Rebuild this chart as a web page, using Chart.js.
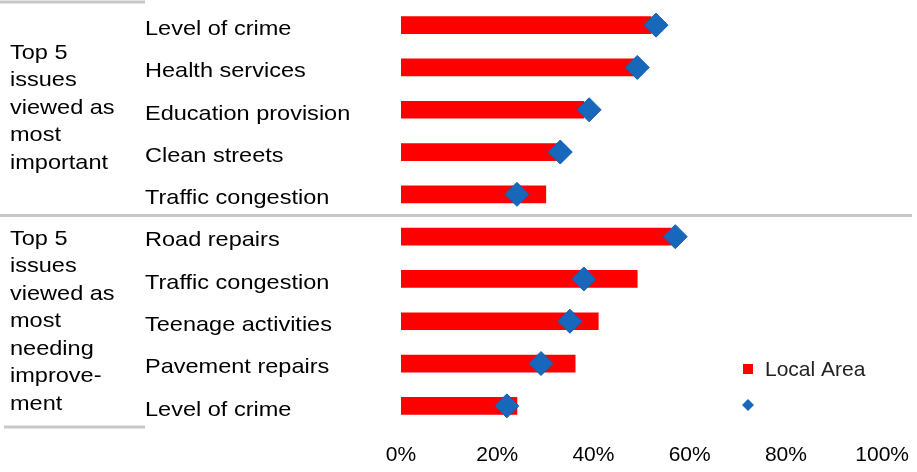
<!DOCTYPE html>
<html>
<head>
<meta charset="utf-8">
<script src="https://cdn.jsdelivr.net/npm/chart.js@4/dist/chart.umd.min.js"></script>
<style>
  html, body { margin: 0; padding: 0; background: #fff; }
  #wrap { width: 917px; height: 472px; position: relative; }
</style>
</head>
<body>
<div id="wrap"><canvas id="issuesChart"></canvas></div>
<script>
// Catégories (deux groupes de 5)
const categories = [
    "Level of crime",
    "Health services",
    "Education provision",
    "Clean streets",
    "Traffic congestion",
    "Road repairs",
    "Traffic congestion",
    "Teenage activities",
    "Pavement repairs",
    "Level of crime",
];
const localArea = [52, 48.4, 38, 32.6, 30.1, 56.1, 49.1, 41, 36.2, 24.1];
const comparison = [53, 49.1, 39.1, 33.1, 24.1, 57, 38, 35.1, 29.1, 22];
const tickValues = [0, 20, 40, 60, 80, 100];
const groupLabels = [
    ["Top 5", "issues", "viewed as", "most", "important"],
    ["Top 5", "issues", "viewed as", "most", "needing", "improve-", "ment"],
];
const legendLabels = ["Local Area", ""];

const FONT = "Liberation Sans, Arial, sans-serif";
const RED = "#ff0000";
const BLUE = "#1768bb";
const RULE = "#c8c8c8";
// Le texte de la référence est légèrement étiré horizontalement
const STRETCH = 1.12;

function stretchedText(ctx, text, x, y) {
    ctx.save();
    ctx.translate(x, y);
    ctx.scale(STRETCH, 1);
    ctx.fillText(text, 0, 0);
    ctx.restore();
}

/** Libellés, filets de séparation et légende dessinés à la main */
const decorPlugin = {
    id: "decor",
    afterDraw(chart) {
        const { ctx, scales } = chart;
        const y = scales.y;
        const half = (y.getPixelForValue(1) - y.getPixelForValue(0)) / 2;
        const top = y.getPixelForValue(0) - half;
        const mid = y.getPixelForValue(5) - half;
        const bottom = y.getPixelForValue(9) + half;

        ctx.save();
        ctx.strokeStyle = RULE;
        ctx.lineWidth = 3;
        ctx.beginPath();
        ctx.moveTo(0, Math.max(top - 2, 1.5)); ctx.lineTo(145, Math.max(top - 2, 1.5));
        ctx.moveTo(0, mid); ctx.lineTo(912, mid);
        ctx.moveTo(4, bottom); ctx.lineTo(145, bottom);
        ctx.stroke();

        ctx.fillStyle = "#000";
        ctx.font = "21px " + FONT;
        ctx.textAlign = "left";
        ctx.textBaseline = "middle";

        chart.data.labels.forEach((label, i) =>
            stretchedText(ctx, label, 145, y.getPixelForValue(i) + 4),
        );

        const lh = 27.5;
        groupLabels[0].forEach((t, i) => stretchedText(ctx, t, 10, 53 + i * lh));
        groupLabels[1].forEach((t, i) => stretchedText(ctx, t, 10, 239 + i * lh));

        // Légende
        ctx.fillStyle = RED;
        ctx.fillRect(743, 364, 10, 10);
        ctx.fillStyle = "#222";
        ctx.fillText(legendLabels[0], 765, 370);
        ctx.fillStyle = BLUE;
        ctx.beginPath();
        ctx.moveTo(748, 399); ctx.lineTo(754, 405);
        ctx.lineTo(748, 411); ctx.lineTo(742, 405);
        ctx.closePath();
        ctx.fill();
        ctx.restore();
    },
};

new Chart(document.getElementById("issuesChart"), {
    data: {
        labels: categories,
        datasets: [
            {
                type: "bar",
                label: legendLabels[0],
                data: localArea,
                backgroundColor: RED,
                barThickness: 17,
                order: 2,
            },
            {
                type: "line",
                label: legendLabels[1],
                data: comparison,
                showLine: false,
                pointStyle: "rectRot",
                pointRadius: 12,
                pointHoverRadius: 12,
                pointBackgroundColor: BLUE,
                pointBorderColor: "#1560ae",
                pointBorderWidth: 1,
                clip: false,
                order: 1,
            },
        ],
    },
    options: {
        indexAxis: "y",
        responsive: true,
        maintainAspectRatio: false,
        animation: false,
        layout: {
            autoPadding: false,
            padding: { left: 145, right: 31, top: 4, bottom: 0 },
        },
        plugins: { legend: { display: false }, tooltip: { enabled: false } },
        scales: {
            x: {
                min: 0,
                max: 100,
                afterBuildTicks: (axis) => {
                    axis.ticks = tickValues.map((v) => ({ value: v }));
                },
                afterFit: (axis) => { axis.height = 45; },
                grid: { display: false },
                border: { display: false },
                ticks: {
                    color: "#000",
                    font: { family: FONT, size: 21 },
                    padding: 8,
                    callback: (v) => v + "%",
                },
            },
            y: {
                grid: { display: false },
                border: { display: false },
                afterFit: (axis) => { axis.width = 256; },
                ticks: { display: false },
            },
        },
    },
    plugins: [decorPlugin],
});
</script>
</body>
</html>
